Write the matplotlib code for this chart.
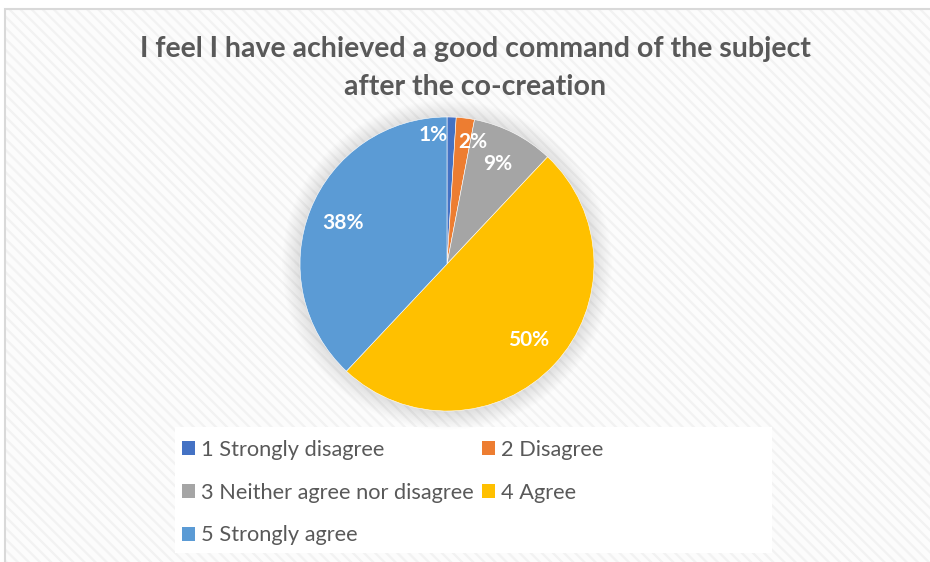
import matplotlib.pyplot as plt
from matplotlib.patches import Rectangle, Circle, Patch

# survey answers, share of respondents in %
categories = ['1 Strongly disagree', '2 Disagree', '3 Neither agree nor disagree',
              '4 Agree', '5 Strongly agree']
shares = [1, 2, 9, 50, 38]
colors = ['#4472C4', '#ED7D31', '#A5A5A5', '#FFC000', '#5B9BD5']
title = 'I feel I have achieved a good command of the subject\nafter the co-creation'

plt.rcParams['font.family'] = ['Lato', 'DejaVu Sans']

W, H = 930, 562
fig = plt.figure(figsize=(W / 100, H / 100), dpi=100)
fig.patch.set_facecolor('white')

# chart area: striped background + thin grey frame
plt.rcParams['hatch.color'] = '#f2f2f2'
plt.rcParams['hatch.linewidth'] = 1.6
bg = Rectangle((5 / W, 0), 1, 1 - 9 / H, transform=fig.transFigure,
               facecolor='#fcfcfc', edgecolor='#f2f2f2', hatch='\\\\\\',
               linewidth=0, zorder=0)
fig.patches.append(bg)
frame = Rectangle((5 / W, -0.01), 1, 1 - 9 / H + 0.01, transform=fig.transFigure,
                  facecolor='none', edgecolor='#d9d9d9', linewidth=1.5, zorder=1)
fig.patches.append(frame)

fig.text(475 / W, 1 - 68 / H, title, ha='center', va='center', fontsize=20.5,
         fontweight='bold', color='#595959', linespacing=1.6, zorder=2)

# pie
cx, cy, R = 447, 264, 147
box = 170
ax = fig.add_axes([(cx - box) / W, (H - cy - box) / H, 2 * box / W, 2 * box / H])
ax.set_zorder(2)

# soft shadow round the pie
for i in range(14):
    ax.add_patch(Circle((0, -1), R + 1 + i * 1.3, facecolor='#000000',
                        alpha=0.009, edgecolor='none', zorder=0))

wedges, texts, autotexts = ax.pie(shares, colors=colors, radius=R, startangle=90,
                                  counterclock=False, autopct='%d%%', pctdistance=0.76,
                                  wedgeprops=dict(linewidth=0.4, edgecolor='white'),
                                  textprops=dict(color='white', fontsize=15,
                                                 fontweight='bold'))
ax.set_xlim(-box, box)
ax.set_ylim(-box, box)
ax.set_aspect('equal')
ax.axis('off')
for w in wedges:
    w.set_zorder(2)
for t in autotexts:
    t.set_zorder(3)
# the two thin slices get their labels near the top edge
autotexts[0].set_position((-14, 129))
autotexts[1].set_position((26, 122))

# legend box, then entries in row-wise order over two columns
fig.patches.append(Rectangle((175 / W, 1 - 553 / H), 597 / W, 126 / H,
                             transform=fig.transFigure, facecolor='white',
                             edgecolor='none', zorder=1))
handles = [Patch(facecolor=c) for c in colors]
order = [0, 2, 4, 1, 3]
leg = fig.legend([handles[i] for i in order], [categories[i] for i in order],
                 ncol=2, loc='upper left',
                 bbox_to_anchor=(162 / W, 1 - 420 / H),
                 frameon=False,
                 handlelength=0.6, handleheight=0.6, handletextpad=0.3,
                 columnspacing=0.35, labelspacing=1.05, borderpad=0.4,
                 fontsize=15.7, labelcolor='#595959')
leg.set_zorder(3)

fig.savefig('out.png', dpi=100)
